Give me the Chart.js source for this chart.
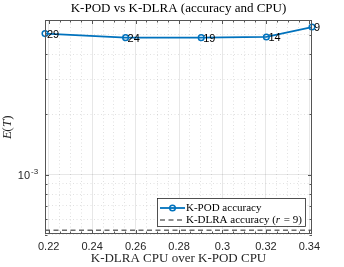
<!DOCTYPE html>
<html>
<head>
<meta charset="utf-8">
<script src="https://cdn.jsdelivr.net/npm/chart.js@4"></script>
<style>body{margin:0;background:#fff}canvas{display:block}</style>
</head>
<body>
<canvas id="chart" width="344" height="267"></canvas>
<script>
// K-DLRA CPU / K-POD CPU for each rank
var cpuRatio = [0.2183, 0.2554, 0.2902, 0.3202, 0.3412];
var kpodAccuracy = [5.07e-3, 4.84e-3, 4.84e-3, 4.88e-3, 5.47e-3];
var rankLabels = ['29', '24', '19', '14', '9'];
var kdlraAccuracy = 5.27e-4;

var xTicks = [0.22, 0.225, 0.23, 0.235, 0.24, 0.245, 0.25, 0.255, 0.26, 0.265, 0.27, 0.275,
              0.28, 0.285, 0.29, 0.295, 0.3, 0.305, 0.31, 0.315, 0.32, 0.325, 0.33, 0.335, 0.34];
var yTicks = [5e-4, 6e-4, 7e-4, 8e-4, 9e-4, 1e-3, 2e-3, 3e-3, 4e-3, 5e-3];

var blue = '#0072BD';
var dashGray = '#6b6b6b';
var axisColor = '#262626';

function majorX(v) { return Math.abs(v * 50 - Math.round(v * 50)) < 1e-6; }
function majorY(v) { return Math.abs(v - 1e-3) < 1e-9; }

var matlabLook = {
    id: 'matlabLook',
    afterDatasetsDraw: function (chart) {
        var c = chart.ctx, a = chart.chartArea;
        var sx = chart.scales.x, sy = chart.scales.y;
        c.save();

        // axes box
        c.strokeStyle = '#555';
        c.lineWidth = 1;
        c.strokeRect(a.left + 0.5, a.top + 0.5, a.right - a.left - 1, a.bottom - a.top - 1);

        // inward ticks
        c.beginPath();
        xTicks.forEach(function (v) {
            var px = Math.round(sx.getPixelForValue(v)) + 0.5;
            var len = majorX(v) ? 4 : 2.5;
            c.moveTo(px, a.bottom); c.lineTo(px, a.bottom - len);
            c.moveTo(px, a.top); c.lineTo(px, a.top + len);
        });
        yTicks.forEach(function (v) {
            var py = Math.round(sy.getPixelForValue(v)) + 0.5;
            var len = majorY(v) ? 4 : 2.5;
            c.moveTo(a.left, py); c.lineTo(a.left + len, py);
            c.moveTo(a.right, py); c.lineTo(a.right - len, py);
        });
        c.stroke();

        // y tick label 10^-3
        var y3 = sy.getPixelForValue(1e-3);
        c.fillStyle = axisColor;
        c.textBaseline = 'alphabetic';
        c.textAlign = 'right';
        c.font = '11px "Liberation Sans", Arial, sans-serif';
        c.fillText('10', 30, y3 + 4);
        c.textAlign = 'left';
        c.font = '8px "Liberation Sans", Arial, sans-serif';
        c.fillText('-3', 31, y3 - 1);

        // rank labels next to points
        var meta = chart.getDatasetMeta(0);
        c.fillStyle = '#000';
        c.font = '11px "Liberation Sans", Arial, sans-serif';
        c.textBaseline = 'middle';
        meta.data.forEach(function (pt, i) {
            c.fillText(rankLabels[i], pt.x + 2, pt.y + 1);
        });

        // title and axis titles
        var cx = (a.left + a.right) / 2;
        c.textAlign = 'center';
        c.fillStyle = '#000';
        c.font = '13px "Liberation Serif", "Times New Roman", serif';
        c.fillText('K-POD vs K-DLRA (accuracy and CPU)', cx, 9);
        c.fillStyle = axisColor;
        c.fillText('K-DLRA CPU over K-POD CPU', cx, 259);
        c.save();
        c.translate(8, (a.top + a.bottom) / 2);
        c.rotate(-Math.PI / 2);
        c.font = 'italic 13px "Liberation Serif", "Times New Roman", serif';
        c.fillText('E', -8, 0);
        c.font = '13px "Liberation Serif", "Times New Roman", serif';
        c.fillText('(', -2.5, 0);
        c.font = 'italic 13px "Liberation Serif", "Times New Roman", serif';
        c.fillText('T', 3.5, 0);
        c.font = '13px "Liberation Serif", "Times New Roman", serif';
        c.fillText(')', 9.5, 0);
        c.restore();

        // legend
        var lx = 157, ly = 198, lw = 148, lh = 28;
        c.fillStyle = '#fff';
        c.fillRect(lx, ly, lw, lh);
        c.strokeStyle = axisColor;
        c.lineWidth = 0.8;
        c.strokeRect(lx + 0.5, ly + 0.5, lw, lh);

        var r1 = ly + 10, r2 = ly + 22;
        c.strokeStyle = blue;
        c.lineWidth = 1.8;
        c.beginPath(); c.moveTo(160, r1); c.lineTo(185, r1); c.stroke();
        c.beginPath(); c.arc(172.5, r1, 2.8, 0, Math.PI * 2); c.lineWidth = 1.5; c.stroke();
        c.strokeStyle = dashGray;
        c.lineWidth = 1.5;
        c.setLineDash([5, 3.5]);
        c.beginPath(); c.moveTo(160, r2); c.lineTo(185, r2); c.stroke();
        c.setLineDash([]);

        c.fillStyle = '#000';
        c.textAlign = 'left';
        var serif = '11px "Liberation Serif", "Times New Roman", serif';
        var iserif = 'italic 11px "Liberation Serif", "Times New Roman", serif';
        c.font = serif;
        c.fillText('K-POD accuracy', 186, r1 + 0.5);
        var tx = 186;
        var parts = [['K-DLRA accuracy (', serif], ['r', iserif], [' = 9)', serif]];
        parts.forEach(function (p) {
            c.font = p[1];
            c.fillText(p[0], tx, r2 + 0.5);
            tx += c.measureText(p[0]).width + (p[1] === iserif ? 1 : 0);
        });

        c.restore();
    }
};

var ctx = document.getElementById('chart').getContext('2d');
var chart = new Chart(ctx, {
    type: 'line',
    data: {
        datasets: [{
            label: 'K-POD accuracy',
            data: cpuRatio.map(function (x, i) { return { x: x, y: kpodAccuracy[i] }; }),
            borderColor: blue,
            borderWidth: 1.8,
            pointRadius: 2.8,
            pointBorderWidth: 1.5,
            pointBackgroundColor: 'rgba(0,0,0,0)',
            pointBorderColor: blue,
            clip: false,
            tension: 0
        }, {
            label: 'K-DLRA accuracy (r = 9)',
            data: [{ x: cpuRatio[0], y: kdlraAccuracy }, { x: cpuRatio[cpuRatio.length - 1], y: kdlraAccuracy }],
            borderColor: dashGray,
            borderWidth: 1.5,
            borderDash: [5, 3.5],
            pointRadius: 0
        }]
    },
    options: {
        responsive: false,
        animation: false,
        events: [],
        layout: {
            padding: { top: 20, right: 32, left: 0, bottom: 0 }
        },
        scales: {
            x: {
                type: 'linear',
                min: cpuRatio[0],
                max: cpuRatio[cpuRatio.length - 1],
                afterBuildTicks: function (scale) {
                    scale.ticks = xTicks.map(function (v) { return { value: v }; });
                },
                afterFit: function (scale) { scale.height = 33; },
                ticks: {
                    autoSkip: false,
                    maxRotation: 0,
                    padding: 6,
                    color: axisColor,
                    font: { family: '"Liberation Sans", Arial, sans-serif', size: 11 },
                    callback: function (v) {
                        return majorX(v) ? String(Math.round(v * 100) / 100) : '';
                    }
                },
                grid: {
                    drawTicks: false,
                    color: function (c) {
                        return c.tick && majorX(c.tick.value) ? 'rgba(0,0,0,0.12)' : 'rgba(0,0,0,0.15)';
                    },
                    lineWidth: 0.8
                },
                border: {
                    display: false,
                    dash: function (c) {
                        return c.tick && !majorX(c.tick.value) ? [1, 2.5] : [];
                    }
                }
            },
            y: {
                type: 'logarithmic',
                min: 5.05e-4,
                max: 5.93e-3,
                afterBuildTicks: function (scale) {
                    scale.ticks = yTicks.map(function (v) { return { value: v }; });
                },
                afterFit: function (scale) { scale.width = 45; },
                ticks: {
                    callback: function () { return ''; }
                },
                grid: {
                    drawTicks: false,
                    color: function (c) {
                        return c.tick && majorY(c.tick.value) ? 'rgba(0,0,0,0.12)' : 'rgba(0,0,0,0.15)';
                    },
                    lineWidth: 0.8
                },
                border: {
                    display: false,
                    dash: function (c) {
                        return c.tick && !majorY(c.tick.value) ? [1, 2.5] : [];
                    }
                }
            }
        },
        plugins: {
            legend: { display: false },
            tooltip: { enabled: false }
        }
    },
    plugins: [matlabLook]
});
</script>
</body>
</html>
